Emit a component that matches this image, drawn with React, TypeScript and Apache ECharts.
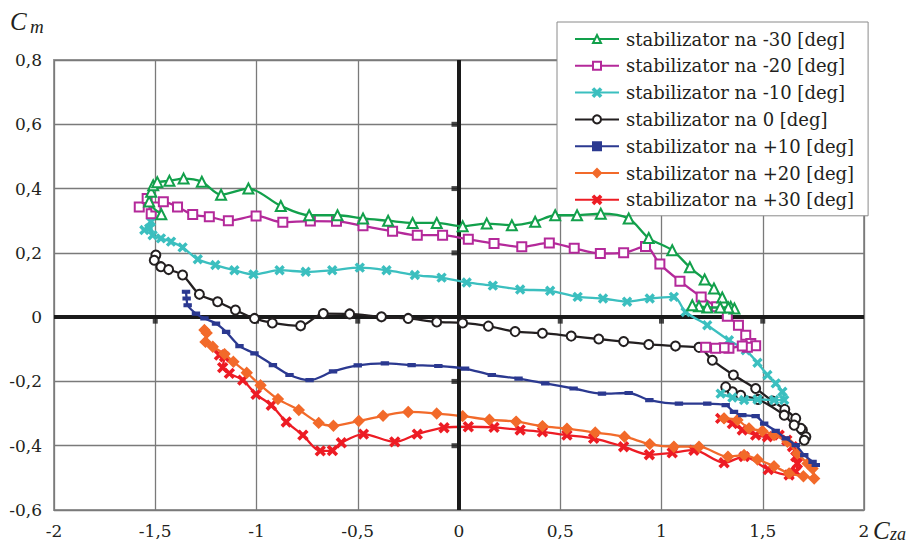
import React, { useEffect, useRef } from "react";
import * as echarts from "echarts";

const seriesNames = [
  "stabilizator na -30 [deg]",
  "stabilizator na -20 [deg]",
  "stabilizator na -10 [deg]",
  "stabilizator na 0 [deg]",
  "stabilizator na +10 [deg]",
  "stabilizator na +20 [deg]",
  "stabilizator na +30 [deg]",
];

const seriesColors = ["#12a04b", "#b4299a", "#3bbfbf", "#231f20", "#2b3990", "#f26a2a", "#ed1c24"];

const stabM30 = [
  [-1.47, 0.32], [-1.53, 0.36], [-1.52, 0.39], [-1.51, 0.41], [-1.49, 0.42], [-1.43, 0.424], [-1.36, 0.431],
  [-1.27, 0.421], [-1.175, 0.381], [-1.04, 0.4], [-0.88, 0.346], [-0.74, 0.317], [-0.6, 0.317], [-0.474, 0.307],
  [-0.35, 0.3], [-0.229, 0.293], [-0.11, 0.293], [0.018, 0.283], [0.137, 0.291], [0.261, 0.286], [0.376, 0.297],
  [0.475, 0.317], [0.583, 0.317], [0.7, 0.322], [0.838, 0.307], [0.937, 0.246], [1.053, 0.208], [1.14, 0.155],
  [1.213, 0.117], [1.259, 0.089], [1.3, 0.061], [1.342, 0.032], [1.36, 0.027], [1.33, 0.03], [1.29, 0.03],
  [1.226, 0.03], [1.185, 0.034], [1.152, 0.037],
];

const stabM20 = [
  [-1.579, 0.343], [-1.54, 0.369], [-1.52, 0.322], [-1.497, 0.343], [-1.46, 0.359], [-1.39, 0.343], [-1.315, 0.319],
  [-1.233, 0.312], [-1.139, 0.3], [-1.002, 0.315], [-0.87, 0.295], [-0.734, 0.299], [-0.605, 0.298], [-0.474, 0.284],
  [-0.328, 0.267], [-0.206, 0.255], [-0.081, 0.255], [0.046, 0.242], [0.173, 0.229], [0.31, 0.219], [0.446, 0.231],
  [0.569, 0.214], [0.698, 0.198], [0.813, 0.2], [0.921, 0.22], [0.992, 0.165], [1.091, 0.112], [1.196, 0.063],
  [1.272, 0.032], [1.325, 0.003], [1.38, -0.025], [1.416, -0.056], [1.441, -0.082], [1.465, -0.089], [1.424, -0.094],
  [1.399, -0.09], [1.333, -0.097], [1.309, -0.095], [1.267, -0.097], [1.218, -0.094],
];

const stabM10 = [
  [-1.554, 0.271], [-1.53, 0.276], [-1.521, 0.297], [-1.513, 0.255], [-1.472, 0.245], [-1.422, 0.235], [-1.365, 0.217],
  [-1.29, 0.18], [-1.203, 0.162], [-1.109, 0.146], [-1.015, 0.133], [-0.886, 0.146], [-0.757, 0.141], [-0.626, 0.146],
  [-0.49, 0.154], [-0.358, 0.146], [-0.218, 0.131], [-0.086, 0.123], [0.038, 0.108], [0.167, 0.098], [0.302, 0.086],
  [0.45, 0.082], [0.586, 0.063], [0.711, 0.058], [0.83, 0.048], [0.942, 0.058], [1.061, 0.063], [1.119, 0.016],
  [1.226, -0.025], [1.333, -0.072], [1.416, -0.103], [1.474, -0.142], [1.523, -0.18], [1.564, -0.206], [1.597, -0.232],
  [1.606, -0.258], [1.556, -0.258], [1.474, -0.256], [1.408, -0.258], [1.35, -0.25], [1.292, -0.238],
];

const stabZero = [
  [-1.497, 0.193], [-1.505, 0.177], [-1.472, 0.157], [-1.434, 0.148], [-1.365, 0.131], [-1.282, 0.071], [-1.192, 0.048],
  [-1.104, 0.022], [-1.01, -0.004], [-0.922, -0.018], [-0.782, -0.027], [-0.67, 0.011], [-0.54, 0.01], [-0.383, 0.001],
  [-0.251, -0.004], [-0.11, -0.015], [0.018, -0.018], [0.145, -0.028], [0.277, -0.045], [0.412, -0.05], [0.554, -0.059],
  [0.69, -0.068], [0.813, -0.076], [0.937, -0.085], [1.069, -0.09], [1.185, -0.094], [1.251, -0.134], [1.355, -0.18],
  [1.465, -0.222], [1.548, -0.261], [1.609, -0.287], [1.663, -0.315], [1.696, -0.351], [1.713, -0.372], [1.705, -0.383],
  [1.688, -0.346], [1.655, -0.336], [1.606, -0.305], [1.477, -0.256], [1.391, -0.243], [1.35, -0.232], [1.317, -0.217],
];

const stabP10 = [
  [-1.348, 0.079], [-1.345, 0.058], [-1.34, 0.037], [-1.299, 0.011], [-1.257, -0.004], [-1.2, -0.02], [-1.15, -0.046],
  [-1.084, -0.09], [-1.01, -0.113], [-0.919, -0.149], [-0.837, -0.18], [-0.738, -0.196], [-0.622, -0.169], [-0.5, -0.15],
  [-0.366, -0.144], [-0.234, -0.149], [-0.102, -0.152], [0.03, -0.16], [0.162, -0.18], [0.294, -0.191], [0.426, -0.206],
  [0.566, -0.222], [0.706, -0.238], [0.838, -0.236], [0.94, -0.258], [1.086, -0.269], [1.226, -0.269], [1.317, -0.274],
  [1.358, -0.295], [1.399, -0.305], [1.465, -0.308], [1.507, -0.331], [1.564, -0.354], [1.614, -0.377], [1.663, -0.398],
  [1.705, -0.429], [1.746, -0.45], [1.762, -0.46],
];

const stabP20 = [
  [-1.257, -0.04], [-1.246, -0.049], [-1.252, -0.077], [-1.216, -0.092], [-1.158, -0.115], [-1.114, -0.139], [-1.048, -0.173],
  [-0.98, -0.212], [-0.894, -0.255], [-0.791, -0.289], [-0.693, -0.329], [-0.62, -0.338], [-0.495, -0.323], [-0.375, -0.307],
  [-0.251, -0.295], [-0.11, -0.3], [0.018, -0.308], [0.15, -0.319], [0.282, -0.325], [0.412, -0.339], [0.533, -0.347],
  [0.673, -0.359], [0.817, -0.372], [0.942, -0.395], [1.061, -0.403], [1.185, -0.403], [1.328, -0.434], [1.408, -0.429],
  [1.474, -0.443], [1.556, -0.464], [1.63, -0.486], [1.701, -0.495], [1.754, -0.502], [1.746, -0.471], [1.721, -0.455],
  [1.671, -0.424], [1.622, -0.388], [1.556, -0.367], [1.498, -0.354], [1.432, -0.346], [1.375, -0.32], [1.309, -0.315],
];

const stabP30 = [
  [-1.183, -0.118], [-1.158, -0.123], [-1.167, -0.157], [-1.134, -0.175], [-1.068, -0.196], [-1.002, -0.24], [-0.927, -0.274],
  [-0.853, -0.326], [-0.771, -0.367], [-0.685, -0.416], [-0.625, -0.415], [-0.581, -0.391], [-0.472, -0.364], [-0.317, -0.388],
  [-0.206, -0.364], [-0.074, -0.344], [0.046, -0.341], [0.173, -0.343], [0.302, -0.351], [0.412, -0.357], [0.533, -0.367],
  [0.665, -0.377], [0.813, -0.403], [0.94, -0.428], [1.053, -0.422], [1.16, -0.414], [1.309, -0.453], [1.408, -0.434],
  [1.527, -0.474], [1.63, -0.491], [1.663, -0.481], [1.671, -0.455], [1.663, -0.434], [1.647, -0.403], [1.619, -0.383],
  [1.581, -0.367], [1.523, -0.372], [1.465, -0.367], [1.399, -0.351], [1.35, -0.331], [1.292, -0.315],
];

const xTickMarks = [-1.5, -1, -0.5, 0.5, 1, 1.5];
const yTickMarks = [-0.4, -0.2, 0.2, 0.4, 0.6];

const CROSS = "path://M0,1.5 L1.5,0 L5,3.5 L8.5,0 L10,1.5 L6.5,5 L10,8.5 L8.5,10 L5,6.5 L1.5,10 L0,8.5 L3.5,5 Z";

const allData = [stabM30, stabM20, stabM10, stabZero, stabP10, stabP20, stabP30];
const symbols: any[] = ["emptyTriangle", "emptyRect", CROSS, "emptyCircle", "rect", "diamond", CROSS];
const symbolSizes: any[] = [10, 9, 8, 9, [6, 3], 10, 9];

const FONT = '"DejaVu Serif", "Liberation Serif", serif';

function fmt(v: number) {
  if (Math.abs(v) < 1e-9) return "0";
  const r = Math.round(v * 10) / 10;
  return String(r).replace(".", ",");
}

export default function App() {
  const ref = useRef<HTMLDivElement>(null);
  useEffect(() => {
    document.body.style.margin = "0";
    const chart = echarts.init(ref.current!, null, { renderer: "svg" });
    const lineSeries = allData.map((d, i) => ({
      name: seriesNames[i],
      type: "line",
      data: d,
      smooth: 0.3,
      symbol: symbols[i],
      symbolSize: symbolSizes[i],
      showAllSymbol: true,
      lineStyle: { color: seriesColors[i], width: 2.3 },
      itemStyle: { color: seriesColors[i], borderColor: seriesColors[i], borderWidth: 1.7 },
      z: 3 + (6 - i),
    }));
    chart.setOption({
      animation: false,
      backgroundColor: "#ffffff",
      grid: {
        left: 54,
        right: 49,
        top: 60,
        bottom: 35,
        show: true,
        borderColor: "#9a9a9a",
        borderWidth: 2,
      },
      xAxis: {
        type: "value",
        min: -2,
        max: 2,
        interval: 0.5,
        axisLine: { show: false },
        axisTick: { show: false },
        axisLabel: { formatter: fmt, color: "#231f20", fontFamily: FONT, fontSize: 17, margin: 12 },
        splitLine: { show: true, lineStyle: { color: "#7a7a7a", width: 1.3 } },
      },
      yAxis: {
        type: "value",
        min: -0.6,
        max: 0.8,
        interval: 0.2,
        axisLine: { show: false },
        axisTick: { show: false },
        axisLabel: { formatter: fmt, color: "#231f20", fontFamily: FONT, fontSize: 17, margin: 12 },
        splitLine: { show: true, lineStyle: { color: "#7a7a7a", width: 1.3 } },
      },
      legend: {
        orient: "vertical",
        left: 557,
        top: 22,
        data: seriesNames,
        backgroundColor: "#ffffff",
        borderColor: "#8a8a8a",
        borderWidth: 1,
        padding: [7, 14, 6, 17],
        itemWidth: 44,
        itemHeight: 10,
        itemGap: 6.8,
        textStyle: { fontFamily: FONT, fontSize: 18, color: "#231f20", lineHeight: 20, padding: [0, 0, 0, 2] },
      },
      graphic: [
        { type: "text", left: 10, top: 9, style: { text: "C", font: 'italic 25px "Liberation Serif", serif', fill: "#231f20" } },
        { type: "text", left: 30, top: 17, style: { text: "m", font: 'italic 19px "Liberation Serif", serif', fill: "#231f20" } },
        { type: "text", left: 873, top: 518, style: { text: "C", font: 'italic 25px "Liberation Serif", serif', fill: "#231f20" } },
        { type: "text", left: 890, top: 525, style: { text: "za", font: 'italic 18px "Liberation Serif", serif', fill: "#231f20" } },
      ],
      series: [
        {
          name: "axes",
          type: "line",
          data: [],
          z: 2,
          markLine: {
            silent: true,
            symbol: ["none", "none"],
            label: { show: false },
            lineStyle: { color: "#1a1a1a", width: 4, type: "solid" },
            data: [{ xAxis: 0 }, { yAxis: 0 }],
          },
        },
        {
          name: "xticks",
          type: "scatter",
          data: xTickMarks.map((v) => [v, 0]),
          symbol: "rect",
          symbolSize: [5, 7],
          symbolOffset: [0, 3],
          itemStyle: { color: "#1a1a1a" },
          z: 2,
          silent: true,
        },
        {
          name: "yticks",
          type: "scatter",
          data: yTickMarks.map((v) => [0, v]),
          symbol: "rect",
          symbolSize: [7, 5],
          symbolOffset: [-4, 0],
          itemStyle: { color: "#1a1a1a" },
          z: 2,
          silent: true,
        },
        ...lineSeries,
      ],
    });
    return () => chart.dispose();
  }, []);
  return <div ref={ref} style={{ width: 913, height: 545 }} />;
}
